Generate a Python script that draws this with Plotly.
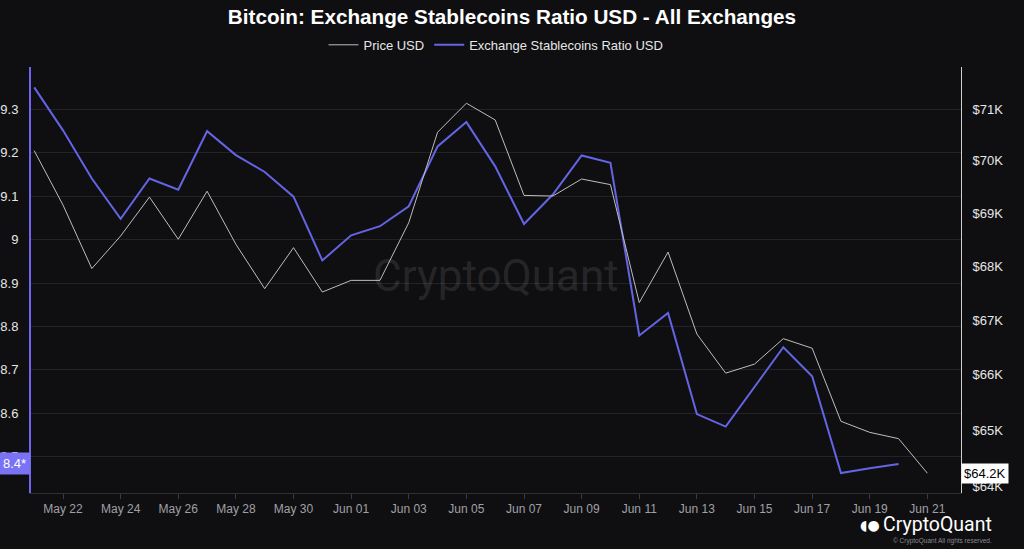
import math
import plotly.graph_objects as go

# ---- data ----
price_dates = [
    "2024-05-21", "2024-05-22", "2024-05-23", "2024-05-24", "2024-05-25", "2024-05-26",
    "2024-05-27", "2024-05-28", "2024-05-29", "2024-05-30", "2024-05-31", "2024-06-01",
    "2024-06-02", "2024-06-03", "2024-06-04", "2024-06-05", "2024-06-06", "2024-06-07",
    "2024-06-08", "2024-06-09", "2024-06-10", "2024-06-11", "2024-06-12", "2024-06-13",
    "2024-06-14", "2024-06-15", "2024-06-16", "2024-06-17", "2024-06-18", "2024-06-19",
    "2024-06-20", "2024-06-21",
]
price_usd = [
    70196, 69155, 67957, 68569, 69306, 68507,
    69418, 68412, 67582, 68349, 67520, 67737,
    67737, 68820, 70553, 71118, 70792, 69338,
    69326, 69651, 69544, 67325, 68266, 66745,
    66031, 66195, 66660, 66485, 65162, 64964,
    64852, 64239,
]
ratio_dates = price_dates[:-1]
ratio_usd = [
    9.351, 9.252, 9.141, 9.048, 9.141, 9.115,
    9.250, 9.195, 9.156, 9.099, 8.952, 9.010,
    9.031, 9.077, 9.215, 9.271, 9.169, 9.036,
    9.104, 9.194, 9.177, 8.779, 8.831, 8.598,
    8.569, 8.661, 8.752, 8.685, 8.462, 8.473,
    8.483,
]
left_ticks = [8.5, 8.6, 8.7, 8.8, 8.9, 9.0, 9.1, 9.2, 9.3]
right_tickvals = [64000, 65000, 66000, 67000, 68000, 69000, 70000, 71000]
right_ticktext = ["$64K", "$65K", "$66K", "$67K", "$68K", "$69K", "$70K", "$71K"]
ratio_label = "8.4*"
price_label = "$64.2K"

BG = "#0f0f11"
BLUE = "#6464e4"
GRAY = "#bdbdbd"

fig = go.Figure()
fig.add_trace(go.Scatter(
    x=price_dates, y=price_usd, name="Price USD", mode="lines",
    line=dict(color=GRAY, width=1), yaxis="y2",
))
fig.add_trace(go.Scatter(
    x=ratio_dates, y=ratio_usd, name="Exchange Stablecoins Ratio USD", mode="lines",
    line=dict(color=BLUE, width=2), yaxis="y",
))

fig.update_layout(
    width=1024, height=549,
    paper_bgcolor=BG, plot_bgcolor=BG,
    margin=dict(l=31, r=63, t=67, b=56),
    hovermode=False,
    font=dict(family="Liberation Sans, Arial, sans-serif", color="#e6e6e6", size=13),
    title=dict(
        text="<b>Bitcoin: Exchange Stablecoins Ratio USD - All Exchanges</b>",
        x=0.5, xanchor="center", y=0.969, yanchor="middle",
        font=dict(size=20.7, color="#ffffff"),
    ),
    legend=dict(
        orientation="h", x=0.5, xanchor="center", y=1.052, yanchor="middle",
        font=dict(size=13, color="#e6e6e6"), bgcolor="rgba(0,0,0,0)",
        itemwidth=30, traceorder="normal",
    ),
    showlegend=True,
    xaxis=dict(
        type="date", automargin=False,
        range=["2024-05-20 21:20", "2024-06-22 04:00"],
        tick0="2024-05-22", dtick=2 * 86400000, tickformat="%b %d",
        showgrid=False, zeroline=False,
        showline=True, linecolor="#2e2e33", linewidth=1,
        ticks="outside", ticklen=5, tickcolor="#3a3a40",
        tickfont=dict(size=12, color="#a0a0a6"),
    ),
    yaxis=dict(
        range=[8.416, 9.398], automargin=False,
        tickvals=left_ticks,
        showgrid=True, gridcolor="#222227", gridwidth=1, zeroline=False,
        showline=True, linecolor="#6f63f0", linewidth=2,
        ticks="", ticklabelstandoff=8, tickfont=dict(size=13, color="#e6e6e6"),
    ),
    yaxis2=dict(
        type="log", overlaying="y", side="right", automargin=False,
        range=[math.log10(63890), math.log10(71830)],
        tickvals=right_tickvals, ticktext=right_ticktext,
        showgrid=False, zeroline=False,
        showline=True, linecolor="#d0d0d0", linewidth=1,
        ticks="", ticklabelstandoff=8, tickfont=dict(size=13, color="#e6e6e6"),
    ),
)

# last-value labels
fig.add_annotation(
    xref="paper", x=0, xanchor="right", yref="y", y=ratio_usd[-1],
    text=ratio_label, showarrow=False, bgcolor="#7a72f5",
    font=dict(size=13, color="#ffffff"), borderpad=3, width=24, align="left",
)
fig.add_annotation(
    xref="paper", x=1, xanchor="left", yref="y2", y=math.log10(price_usd[-1]),
    text=price_label, showarrow=False, bgcolor="#ffffff",
    font=dict(size=13, color="#000000"), borderpad=2,
)

# watermark
fig.add_annotation(
    xref="paper", yref="paper", x=0.5, y=0.509, text="CryptoQuant", showarrow=False,
    font=dict(family="Roboto, sans-serif", size=44, color="rgba(255,255,255,0.10)"),
)

# bottom-right logo
fig.add_annotation(
    xref="paper", yref="paper", x=1.0355, xanchor="right", y=-0.074, yanchor="middle",
    text="CryptoQuant", showarrow=False,
    font=dict(family="Roboto, sans-serif", size=19.5, color="#ffffff"),
)
fig.add_annotation(
    xref="paper", yref="paper", x=0.915, xanchor="right", y=-0.074, yanchor="middle",
    text="◖●", showarrow=False,
    font=dict(family="DejaVu Sans, sans-serif", size=14, color="#ffffff"),
)
fig.add_annotation(
    xref="paper", yref="paper", x=1.0355, xanchor="right", y=-0.1127, yanchor="middle",
    text="© CryptoQuant All rights reserved.", showarrow=False,
    font=dict(family="Liberation Sans, Arial, sans-serif", size=6.5, color="#8a8a90"),
)

fig.write_html(
    "out.html",
    config={"displayModeBar": False},
    post_script="document.body.style.margin='0';document.body.style.overflow='hidden';",
)
